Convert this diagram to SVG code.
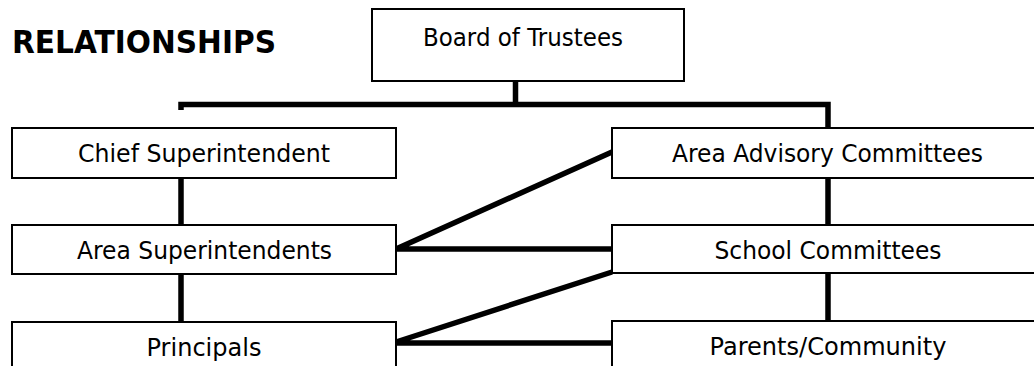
<svg xmlns="http://www.w3.org/2000/svg" width="1034" height="366" viewBox="0 0 1034 366">
<style>
.box{fill:#fff;stroke:#000;stroke-width:2}
.lbl{font-family:"DejaVu Sans","Liberation Sans",sans-serif;font-size:24px;fill:#000;text-anchor:middle}
.title{font-family:"DejaVu Sans","Liberation Sans",sans-serif;font-size:32px;font-weight:bold;fill:#000}
.conn{stroke:#000;stroke-width:5.5;fill:none;stroke-linecap:butt;stroke-linejoin:miter}
</style>
<rect width="1034" height="366" fill="#fff"/>
<text class="title" x="12" y="53" textLength="264" lengthAdjust="spacingAndGlyphs">RELATIONSHIPS</text>
<g id="connectors">
<path class="conn" d="M515.5 81 V104.5 M181 110 V104.5 H828 V128"/>
<path class="conn" d="M181 178 V225 M181 274 V322"/>
<path class="conn" d="M828 178 V225 M828 274 V321"/>
<path class="conn" d="M396 249 L612 152 M396 249 H612"/>
<path class="conn" d="M396 342 L612 272 M396 343 H612"/>
</g>
<g id="board">
<rect class="box" x="372" y="9" width="312" height="72"/>
<text class="lbl" x="523" y="46" textLength="200" lengthAdjust="spacingAndGlyphs">Board of Trustees</text>
</g>
<g id="chief">
<rect class="box" x="12" y="128" width="384" height="50"/>
<text class="lbl" x="204" y="161.5" textLength="252" lengthAdjust="spacingAndGlyphs">Chief Superintendent</text>
</g>
<g id="area-supt">
<rect class="box" x="12" y="225" width="384" height="49"/>
<text class="lbl" x="204.5" y="258.5" textLength="255" lengthAdjust="spacingAndGlyphs">Area Superintendents</text>
</g>
<g id="principals">
<rect class="box" x="12" y="322" width="384" height="60"/>
<text class="lbl" x="204" y="356" textLength="115" lengthAdjust="spacingAndGlyphs">Principals</text>
</g>
<g id="advisory">
<rect class="box" x="612" y="128" width="440" height="50"/>
<text class="lbl" x="827.5" y="161.5" textLength="311" lengthAdjust="spacingAndGlyphs">Area Advisory Committees</text>
</g>
<g id="school">
<rect class="box" x="612" y="225" width="440" height="48"/>
<text class="lbl" x="828" y="259" textLength="227" lengthAdjust="spacingAndGlyphs">School Committees</text>
</g>
<g id="parents">
<rect class="box" x="612" y="321" width="440" height="60"/>
<text class="lbl" x="828" y="355" textLength="237" lengthAdjust="spacingAndGlyphs">Parents/Community</text>
</g>
</svg>
